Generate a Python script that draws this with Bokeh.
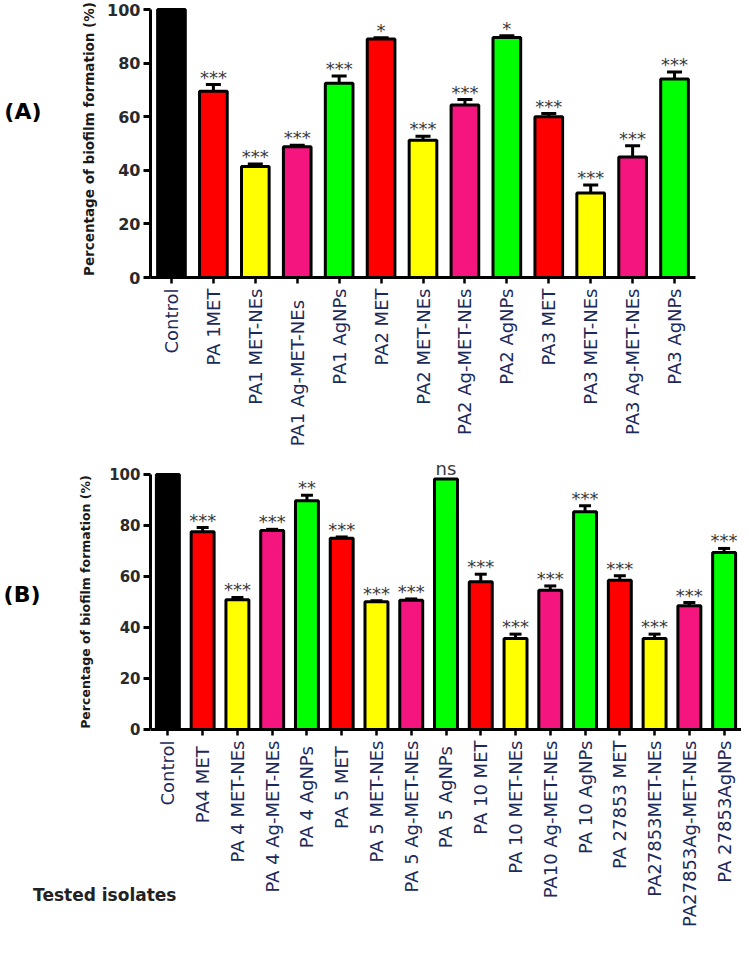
import math
from bokeh.plotting import figure
from bokeh.models import (FactorRange, ColumnDataSource, Whisker, TeeHead,
                          LabelSet, FixedTicker, Range1d, LinearAxis)
from bokeh.layouts import column
from bokeh.core.properties import value
from bokeh.embed import file_html
from bokeh.resources import INLINE

# ---------------- data ----------------
labels_a = ["Control", "PA 1MET", "PA1 MET-NEs", "PA1   Ag-MET-NEs", "PA1 AgNPs",
            "PA2 MET", "PA2 MET-NEs", "PA2 Ag-MET-NEs", "PA2 AgNPs",
            "PA3 MET", "PA3 MET-NEs", "PA3 Ag-MET-NEs", "PA3 AgNPs"]
values_a = [100, 69.5, 41.4, 48.8, 72.5, 89.0, 51.2, 64.4, 89.6, 60.0, 31.5, 45.0, 74.1]
errors_a = [0, 2.5, 1.0, 0.6, 2.7, 0.5, 1.5, 2.0, 0.6, 1.2, 3.0, 4.2, 2.6]
signif_a = ["", "***", "***", "***", "***", "*", "***", "***", "*", "***", "***", "***", "***"]

labels_b = ["Control", "PA4  MET", "PA 4 MET-NEs", "PA 4 Ag-MET-NEs", "PA 4  AgNPs",
            "PA 5  MET", "PA 5 MET-NEs", "PA 5 Ag-MET-NEs", "PA 5  AgNPs",
            "PA 10 MET", "PA 10 MET-NEs", "PA10 Ag-MET-NEs", "PA 10 AgNPs",
            "PA 27853 MET", "PA27853MET-NEs", "PA27853Ag-MET-NEs", "PA 27853AgNPs"]
values_b = [100, 77.5, 50.9, 78.0, 89.7, 75.0, 50.1, 50.7, 98.2,
            57.9, 35.7, 54.6, 85.4, 58.5, 35.7, 48.5, 69.4]
errors_b = [0, 1.7, 0.9, 0.5, 2.2, 0.5, 0.4, 0.5, 0,
            3.0, 1.7, 1.7, 2.3, 1.8, 1.7, 1.3, 1.6]
signif_b = ["", "***", "***", "***", "**", "***", "***", "***", "ns",
            "***", "***", "***", "***", "***", "***", "***", "***"]

y_ticks = [0, 20, 40, 60, 80, 100]
y_label = "Percentage of biofilm formation (%)"
panel_a_tag = "(A)"
panel_b_tag = "(B)"
x_title = "Tested isolates"

RED, YELLOW, PINK, GREEN = "#FF0000", "#FFFF00", "#F5157F", "#00FF00"
cycle = [RED, YELLOW, PINK, GREEN]
colors_a = ["#000000"] + [cycle[i % 4] for i in range(len(labels_a) - 1)]
colors_b = ["#000000"] + [cycle[i % 4] for i in range(len(labels_b) - 1)]

LABEL_COLOR = "#1b2a5a"
TICK_COLOR = "#2a2a2a"
FONT = "DejaVu Sans"


def text_axis(tick, text, size, standoff, color, orientation="horizontal"):
    return LinearAxis(ticker=FixedTicker(ticks=[tick]),
                      major_label_overrides={tick: text},
                      axis_line_color=None, major_tick_line_color=None,
                      minor_tick_line_color=None, major_tick_out=0, major_tick_in=0,
                      minor_tick_out=0, minor_tick_in=0,
                      major_label_standoff=standoff,
                      major_label_orientation=orientation,
                      major_label_text_font=FONT,
                      major_label_text_font_style="bold",
                      major_label_text_font_size=size,
                      major_label_text_color=color)


def make_panel(labels, values, errors, signif, colors, frame_w, frame_h, y_bot, y_top,
               b_bottom, b_right, tick_font, ylab_font, ylab_standoff, cap_size,
               fixed_x=False, own_label=True):
    p = figure(x_range=FactorRange(factors=labels), y_range=Range1d(y_bot, y_top),
               frame_width=frame_w, frame_height=frame_h,
               min_border_left=142, min_border_right=b_right,
               min_border_top=0, min_border_bottom=b_bottom,
               output_backend="svg", toolbar_location=None)
    p.outline_line_color = None
    p.xgrid.visible = False
    p.ygrid.visible = False
    p.background_fill_color = "white"
    p.border_fill_color = "white"

    src = ColumnDataSource(dict(x=labels, top=values, color=colors))
    p.vbar(x="x", top="top", bottom=0, width=0.66, source=src, fill_color="color",
           line_color="black", line_width=3)

    ex = [l for l, e in zip(labels, errors) if e > 0]
    lo = [v for v, e in zip(values, errors) if e > 0]
    hi = [v + e for v, e in zip(values, errors) if e > 0]
    esrc = ColumnDataSource(dict(x=ex, lo=lo, hi=hi))
    wh = Whisker(base="x", lower="lo", upper="hi", source=esrc,
                 dimension="height", line_width=3, line_color="black",
                 upper_head=TeeHead(size=cap_size, line_width=3, line_color="black"),
                 lower_head=None, level="overlay")
    p.add_layout(wh)

    sx = [l for l, s in zip(labels, signif) if s and s != "ns"]
    sy = [v + e for v, e, s in zip(values, errors, signif) if s and s != "ns"]
    st = [s for s in signif if s and s != "ns"]
    ssrc = ColumnDataSource(dict(x=sx, y=sy, t=st))
    p.add_layout(LabelSet(x="x", y="y", text="t", source=ssrc, y_offset=1,
                          text_align="center", text_baseline="alphabetic",
                          text_font=value(FONT), text_font_size="18px",
                          text_color="#3a3a3a"))
    nx = [l for l, s in zip(labels, signif) if s == "ns"]
    ny = [v + e for v, e, s in zip(values, errors, signif) if s == "ns"]
    if nx:
        nsrc = ColumnDataSource(dict(x=nx, y=ny, t=["ns"] * len(nx)))
        p.add_layout(LabelSet(x="x", y="y", text="t", source=nsrc, y_offset=4,
                              text_align="center", text_baseline="alphabetic",
                              text_font=value(FONT), text_font_size="18px",
                              text_color="#3a3a3a"))

    xa = p.xaxis[0]
    if fixed_x:
        xa.fixed_location = 0
    xa.axis_line_width = 3
    xa.major_tick_line_width = 2.5
    xa.major_tick_out = 6
    xa.major_tick_in = 0
    xa.minor_tick_line_color = None
    xa.major_label_orientation = math.pi / 2
    xa.major_label_standoff = 5
    xa.major_label_text_font = FONT
    xa.major_label_text_font_size = "18px"
    xa.major_label_text_color = LABEL_COLOR

    ya = p.yaxis[0]
    ya.ticker = FixedTicker(ticks=y_ticks)
    ya.bounds = (min(y_ticks), max(y_ticks))
    ya.axis_line_width = 3
    ya.major_tick_line_width = 3
    ya.major_tick_out = 7
    ya.major_tick_in = 0
    ya.minor_tick_line_color = None
    ya.major_label_standoff = 3
    ya.major_label_text_font = FONT
    ya.major_label_text_font_style = "bold"
    ya.major_label_text_font_size = tick_font
    ya.major_label_text_color = TICK_COLOR
    if own_label:
        ya.axis_label = y_label
        ya.axis_label_text_font = FONT
        ya.axis_label_text_font_style = "bold"
        ya.axis_label_text_font_size = ylab_font
        ya.axis_label_text_color = "#1a1a1a"
        ya.axis_label_standoff = ylab_standoff
    else:
        # label centred on the 0-100 span rather than on the taller frame
        mid = (min(y_ticks) + max(y_ticks)) / 2
        lab = text_axis(mid, y_label, ylab_font, ylab_standoff, "#1a1a1a",
                        orientation="vertical")
        p.add_layout(lab, "left")
    return p


# Panel A
pa = make_panel(labels_a, values_a, errors_a, signif_a, colors_a,
                frame_w=545, frame_h=277, y_bot=0, y_top=103.4,
                b_bottom=181, b_right=46, tick_font="16px", ylab_font="13.5px",
                ylab_standoff=7, cap_size=15)
pa.add_layout(text_axis(62, panel_a_tag, "22px", 37, "black"), "left")

# Panel B (frame extends to the bottom so the x axis is pinned at y=0)
pb = make_panel(labels_b, values_b, errors_b, signif_b, colors_b,
                frame_w=591, frame_h=481, y_bot=-82.35, y_top=106.27,
                b_bottom=0, b_right=0, tick_font="15px", ylab_font="12.5px",
                ylab_standoff=13, cap_size=12, fixed_x=True, own_label=False)
pb.add_layout(text_axis(53, panel_b_tag, "22px", 35, "black"), "left")
pb.add_layout(text_axis(-65, x_title, "17px", -176, "#222222"), "left")

layout = column(pa, pb, spacing=0)
open("out.html", "w").write(file_html(layout, INLINE))
